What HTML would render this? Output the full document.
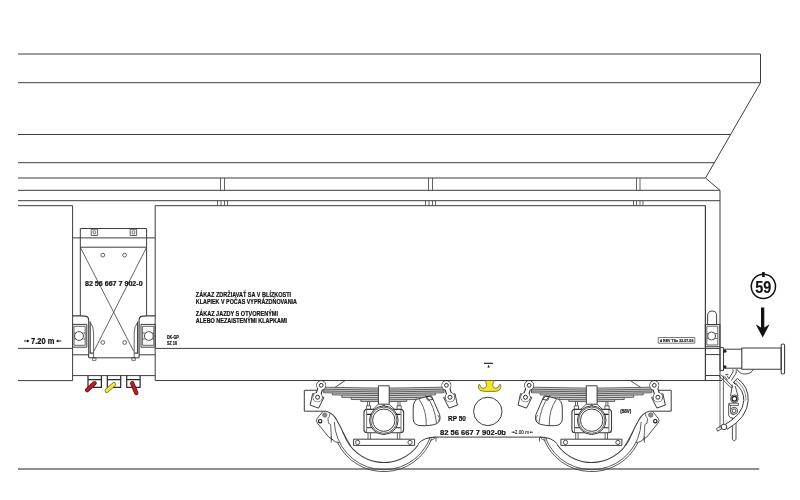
<!DOCTYPE html>
<html lang="sk"><head><meta charset="utf-8"><title>Wagon drawing</title>
<style>
html,body{margin:0;padding:0;background:#fff;}
body{width:800px;height:500px;overflow:hidden;}
svg{display:block;font-family:"Liberation Sans",sans-serif;will-change:transform;}
</style></head><body>
<svg width="800" height="500" viewBox="0 0 800 500" fill="none" stroke="#3d3d3d" stroke-width="1" stroke-linejoin="round">
<rect x="0" y="0" width="800" height="500" fill="#fff" stroke="none"/>
<path d="M18 468.9H759.3" stroke="#6a6a6a" stroke-width="1.5"/>
<g id="hopper">
<path d="M18 54H760.5V82.7L705.5 178L720 190.3V380.5"/>
<path d="M18 82.7H760.5"/>
<path d="M18 134.5H730.5"/>
<path d="M18 162.7H714.3"/>
<path d="M18 178H705.5"/>
<path d="M18 190.3H720"/>
<path d="M18 200.7H720"/>
<path d="M220.5 178V190.3M224.5 178V190.3" stroke-width="0.8"/>
<path d="M428.5 178V190.3M432.5 178V190.3" stroke-width="0.8"/>
<path d="M636.5 178V190.3M640 178V190.3" stroke-width="0.8"/>
<path d="M217.5 200.7V205.7M221 200.7V205.7M224.5 200.7V205.7M227.5 200.7V205.7" stroke-width="0.8"/>
<path d="M425.5 200.7V205.7M429 200.7V205.7M432.5 200.7V205.7M435.5 200.7V205.7" stroke-width="0.8"/>
<path d="M633.5 200.7V205.7M636.5 200.7V205.7M640 200.7V205.7M643 200.7V205.7" stroke-width="0.8"/>
</g>
<g id="body">
<path d="M18 205.7H72.6V380.6H18"/>
<path d="M18 348.4H72.6"/>
<path d="M155.2 380.6V205.7H705.4V380.5"/>
<path d="M155.2 348.4H705.4"/>
<path d="M155.2 380.5H722"/>
</g>
<g id="gear">
<path d="M80.3 315.8V228.5H146.6V315.8"/>
<path d="M72.6 237.9H155.2"/>
<path d="M80.3 247.2H146.6"/>
<rect x="91.2" y="229.3" width="6.4" height="6.2" stroke-width="0.8"/>
<rect x="93.10000000000001" y="230.8" width="2.6" height="3.2" rx="0.8" stroke-width="0.7"/>
<rect x="130.2" y="229.3" width="6.4" height="6.2" stroke-width="0.8"/>
<rect x="132.1" y="230.8" width="2.6" height="3.2" rx="0.8" stroke-width="0.7"/>
<circle cx="102.8" cy="255.1" r="1.9" stroke-width="0.8"/>
<circle cx="102.8" cy="342.5" r="1.9" stroke-width="0.8"/>
<circle cx="124.6" cy="255.1" r="1.9" stroke-width="0.8"/>
<circle cx="124.6" cy="342.5" r="1.9" stroke-width="0.8"/>
<path d="M80.3 247.2L133.6 351M146.6 247.2L94 351" stroke-width="0.8"/>
<path d="M72.6 315.9H81.3L86.3 316.4Q88.6 317 88.7 320V357.8" stroke-width="1.1"/>
<path d="M90.2 321.5V353.1H93.4" stroke-width="1.1"/>
<path d="M90.2 322.5Q93.6 326 93.6 333V357.8" stroke-width="0.8"/>
<rect x="72.6" y="324.4" width="14.200000000000003" height="22.8" stroke-width="1"/>
<rect x="74" y="326.3" width="11.200000000000003" height="19" stroke-width="0.8"/>
<circle cx="79" cy="336" r="4.4" stroke-width="0.9"/>
<path d="M74 333H75.8M74 339H75.8M82.2 333H85.2M82.2 339H85.2" stroke-width="0.7"/>
<path d="M72.6 354.8H88.7"/>
<rect x="92.4" y="357.8" width="3.5999999999999943" height="2.6" stroke-width="0.7"/>
<path d="M155.2 315.9H146.5L141.5 316.4Q139.2 317 139.1 320V357.8" stroke-width="1.1"/>
<path d="M137.6 321.5V353.1H134.4" stroke-width="1.1"/>
<path d="M137.6 322.5Q134.2 326 134.2 333V357.8" stroke-width="0.8"/>
<rect x="141.0" y="324.4" width="14.199999999999989" height="22.8" stroke-width="1"/>
<rect x="142.6" y="326.3" width="11.200000000000017" height="19" stroke-width="0.8"/>
<circle cx="148.8" cy="336" r="4.4" stroke-width="0.9"/>
<path d="M153.8 333H152.0M153.8 339H152.0M145.6 333H142.6M145.6 339H142.6" stroke-width="0.7"/>
<path d="M155.2 354.8H139.1"/>
<rect x="131.8" y="357.8" width="3.5999999999999943" height="2.6" stroke-width="0.7"/>
<path d="M88.7 357.8H139.1"/>
<path d="M72.6 375.6H155.2"/>
<path d="M88 375.6V387.4H101.4V375.6M88 379.6H101.4" stroke-width="1.2" stroke="#2a2a2a"/>
<path d="M107.3 375.6V387.4H120.7V375.6M107.3 379.6H120.7" stroke-width="1.2" stroke="#2a2a2a"/>
<path d="M126.7 375.6V387.4H140.1V375.6M126.7 379.6H140.1" stroke-width="1.2" stroke="#2a2a2a"/>
<line x1="94.6" y1="383.2" x2="87.1" y2="390.1" stroke="#5e0d14" stroke-width="4.3" stroke-linecap="round"/>
<line x1="94.6" y1="383.2" x2="87.1" y2="390.1" stroke="#b81d29" stroke-width="3" stroke-linecap="round"/>
<line x1="113.9" y1="384.4" x2="106.8" y2="390.6" stroke="#6b6410" stroke-width="4.3" stroke-linecap="round"/>
<line x1="113.9" y1="384.4" x2="106.8" y2="390.6" stroke="#f2e73a" stroke-width="3" stroke-linecap="round"/>
<line x1="132.2" y1="383.3" x2="136.3" y2="393" stroke="#5e0d14" stroke-width="4.3" stroke-linecap="round"/>
<line x1="132.2" y1="383.3" x2="136.3" y2="393" stroke="#b81d29" stroke-width="3" stroke-linecap="round"/>
</g>
<g id="end">
<path d="M705.4 205.7V380.5"/>
<path d="M707.6 324.5V316Q707.6 311 712.1 311Q716.6 311 716.6 316V324.5" stroke-width="1"/>
<rect x="705.4" y="324.5" width="14.5" height="22.2" stroke-width="1.1"/>
<rect x="706.8" y="326.2" width="11" height="18.8" stroke-width="0.8"/>
<circle cx="711.6" cy="336" r="4" stroke-width="0.9"/>
<path d="M706.8 333.6H708.2M706.8 338.4H708.2M715 333.6H717.8M715 338.4H717.8" stroke-width="0.7"/>
<path d="M705.4 348.4H720M705.4 354.6H720M705.4 375.5H720"/>
<rect x="720" y="347.6" width="3.5" height="23" stroke-width="1"/>
<circle cx="724.9" cy="351.2" r="1.6" fill="#222" stroke="none"/>
<circle cx="724.9" cy="366.8" r="1.6" fill="#222" stroke="none"/>
<path d="M723.5 349.2H741.8M723.5 368.2H741.8"/>
<rect x="741.8" y="348" width="39.4" height="21.2" stroke-width="1.1"/>
<rect x="781.2" y="344" width="3.4" height="30" rx="1.4" stroke-width="1.1"/>
<path d="M737 369.3Q739.6 374 745.2 374Q750.8 374 753.4 369.3" stroke-width="0.9"/>
<path d="M720 380.5V428.6M723.4 375.6V426" stroke-width="0.8"/>
<path d="M718.9 375.8L731.3 388M721.3 375L732.9 386.8M731.3 388L732.9 386.8" stroke-width="0.9"/>
<path d="M733 369.3V372L728.6 379M736.2 369.3V373L731.4 380.6" stroke-width="0.9"/>
<path d="M724.6 376.4L727.6 380.4M726.6 375.4L729 378.6M725.4 374.4H728.4" stroke-width="0.8" stroke="#222"/>
<path d="M732.4 418V439.4Q734.2 442.4 736 439.4V416" stroke-width="0.9"/>
<path d="M737.4 378.4Q748.8 386.6 748.2 400.6Q747.2 417.6 727.4 429.2L725 424.6Q743 414.4 743.8 400.6Q744.2 389.2 733.4 382.6Z" fill="#fff" stroke-width="1"/>
<path d="M735.6 380.2Q746.4 388 746 400.6" stroke-width="0.6"/>
<path d="M733 381.8L737.4 384.4" stroke-width="0.8"/>
<path d="M732.4 384.6L730.6 396M735.2 386L738 396" stroke-width="0.9"/>
<circle cx="734.4" cy="398.8" r="3.9" fill="#fff" stroke-width="0.9"/>
<circle cx="734.4" cy="398.8" r="2.4" stroke="#222" stroke-width="1.3"/>
<path d="M729.6 403.2H738.4V405.4H729.6Z" fill="#fff" stroke-width="0.8"/>
<path d="M728.7 403.4V415.6Q729.6 418.4 733.6 418.2" stroke-width="0.9"/>
<path d="M730.6 405.4V413Q731.4 415.2 734.1 414.6" stroke-width="0.7"/>
<circle cx="734.1" cy="410.8" r="3.5" fill="#fff" stroke-width="0.9"/>
<circle cx="734.1" cy="410.8" r="1.9" stroke-width="0.9"/>
<circle cx="724" cy="426.9" r="2.8" fill="#fff" stroke-width="1"/>
<path d="M721.8 428.8L717.6 431.2L716.6 428.6L721.2 425.6" stroke-width="0.9"/>
</g>
<g id="bogieL">
<path d="M317 390.25H304.3V411.2H326"/>
<path d="M345.2 380.5L334.5 387.7" stroke-width="0.9"/>
<path d="M323.6 387.20Q383.8 389.20 444.0 387.20V392.80H435.3V394.86H425.8V397.31H416.3V399.51H406.8V401.45H360.8V399.65H351.3V397.51H341.8V395.11H332.3V393.06H323.6Z" fill="#cfcfcf" stroke="none"/>
<path d="M323.6 387.19Q383.8 389.21 444.0 387.19M323.6 389.19Q383.8 391.21 444.0 389.19M323.6 390.99Q383.8 393.01 444.0 390.99M323.6 392.79Q383.8 394.81 444.0 392.79M332.3 394.86Q383.8 396.34 435.3 394.86M341.8 397.31Q383.8 398.29 425.8 397.31M351.3 399.51Q383.8 400.09 416.3 399.51M360.8 401.45Q383.8 401.75 406.8 401.45M332.3 393.06V394.86M435.3 393.06V394.86M341.8 395.11V397.31M425.8 395.11V397.31M351.3 397.51V399.51M416.3 397.51V399.51M360.8 399.65V401.45M406.8 399.65V401.45M323.6 387.20V392.80M444.0 387.20V392.80" stroke-width="0.85" stroke="#4a4a4a"/>
<path d="M312.6 393.7L323.9 397.5L318.6 408.1L310.2 405.1Z" fill="#fff" stroke-width="1"/>
<circle cx="321.2" cy="385.3" r="4.4" fill="#2c2c2c" stroke="#2c2c2c" stroke-width="1.1"/>
<circle cx="317.6" cy="397.25" r="4.5" fill="#2c2c2c" stroke="#2c2c2c" stroke-width="1.1"/>
<line x1="321.2" y1="385.3" x2="317.6" y2="397.25" stroke="#2c2c2c" stroke-width="6"/>
<circle cx="321.2" cy="385.3" r="4.35" fill="#fff" stroke="none"/>
<circle cx="317.6" cy="397.25" r="4.45" fill="#fff" stroke="none"/>
<line x1="321.2" y1="385.3" x2="317.6" y2="397.25" stroke="#fff" stroke-width="3.8"/>
<circle cx="321.2" cy="385.3" r="1.9" stroke-width="1" stroke="#2c2c2c"/>
<circle cx="317.6" cy="397.25" r="2" stroke-width="1" stroke="#2c2c2c"/>
<path d="M455.0 393.7L443.7 397.5L449.0 408.1L457.4 405.1Z" fill="#fff" stroke-width="1"/>
<circle cx="446.4" cy="385.3" r="4.4" fill="#2c2c2c" stroke="#2c2c2c" stroke-width="1.1"/>
<circle cx="450.0" cy="397.25" r="4.5" fill="#2c2c2c" stroke="#2c2c2c" stroke-width="1.1"/>
<line x1="446.4" y1="385.3" x2="450.0" y2="397.25" stroke="#2c2c2c" stroke-width="6"/>
<circle cx="446.4" cy="385.3" r="4.35" fill="#fff" stroke="none"/>
<circle cx="450.0" cy="397.25" r="4.45" fill="#fff" stroke="none"/>
<line x1="446.4" y1="385.3" x2="450.0" y2="397.25" stroke="#fff" stroke-width="3.8"/>
<circle cx="446.4" cy="385.3" r="1.9" stroke-width="1" stroke="#2c2c2c"/>
<circle cx="450.0" cy="397.25" r="2" stroke-width="1" stroke="#2c2c2c"/>
<rect x="378.4" y="385.8" width="10.8" height="18.4" fill="#fff" stroke-width="1"/>
<path d="M367.6 401.8V405.8M369.6 401.8V405.8M398 401.8V405.8M400 401.8V405.8" stroke-width="0.8"/>
<rect x="366.4" y="405.8" width="4.2" height="3.6" stroke-width="0.8"/>
<rect x="397" y="405.8" width="4.2" height="3.6" stroke-width="0.8"/>
<rect x="364" y="409.4" width="39.6" height="23.4" rx="3" fill="#fff" stroke-width="1.1"/>
<path d="M366.6 409.6V432.6M401 409.6V432.6" stroke-width="0.7"/>
<path d="M378.4 404.2L373 409.4M389.2 404.2L394.6 409.4M381.2 408L383.8 404.6L386.40000000000003 408" stroke-width="0.9"/>
<circle cx="383.8" cy="420.2" r="14.3" fill="#fff" stroke-width="1"/>
<circle cx="383.8" cy="420.2" r="13.1" stroke-width="0.8"/>
<circle cx="383.8" cy="420.2" r="11.2" stroke-width="1"/>
<path d="M367 414.4H371.6M367 427.8H371.6M396 414.4H400.6M396 427.8H400.6" stroke-width="1.1" stroke="#222"/>
<path d="M368 432.8V439.2M370.4 432.8V439.2M397.4 432.8V439.2M399.8 432.8V439.2" stroke-width="0.8"/>
<rect x="353.6" y="439.2" width="61" height="6.2" stroke-width="1"/>
<circle cx="357.6" cy="442.4" r="2.1" stroke-width="0.9"/>
<circle cx="410" cy="442.4" r="2.1" stroke-width="0.9"/>
<path d="M431.79 438.62A51.4 51.4 0 0 1 337.60 442.73" stroke-width="0.85"/>
<path d="M429.86 438.34A49.5 49.5 0 0 1 334.33 421.93" stroke-width="0.85"/>
<path d="M418.45 444.46A42.3 42.3 0 0 1 344.05 434.67" stroke-width="1.05"/>
<path d="M326 411.2Q333 412.6 337 420.6Q341.5 428.5 344.05 434.7" stroke-width="1.05"/>
<path d="M342.6 431.6L351 446.4" stroke-width="0.8"/>
<circle cx="324.8" cy="415" r="2.3" fill="#8a8a8a" stroke="#666" stroke-width="0.6"/>
<circle cx="320.2" cy="421.2" r="1.7" stroke="#111" stroke-width="1.1"/>
<path d="M323 411.4L317.2 418.4Q315.6 420.6 317.4 423L328.8 437.2L331.4 438.6L335.4 441.8L339.4 442.6" stroke-width="0.9"/>
<path d="M329.8 413.4Q330.4 416.6 328 418.4L328.4 423.2L330.6 424.4L331.6 440.4M331.2 436.4V442.6" stroke-width="0.8"/>
<path d="M413.2 408Q413.4 399.6 419 398.6L428.4 396.2Q432 396.2 434.4 402.6L439.6 414.6Q441.4 421.4 436.4 423.8Q431 425.9 421 425.7Q413.4 425.4 413.2 419Z" fill="#fff" stroke-width="1"/>
<path d="M418.8 398.8Q426.8 410 426.2 425.6M426.8 396.8Q434.6 406 436.6 423.6" stroke-width="0.8"/>
<path d="M437.8 415L439.6 418.6L438.4 421" stroke-width="0.7"/>
<path d="M426.2 396.6L431.4 395.8L433 399.4L427.6 400.2Z" stroke-width="0.8" stroke="#222"/>
<path d="M428.6 438.6Q431 437.4 435.6 437.2M430.2 440.4Q433.6 440 435.4 437.4M436 437.2V441.6" stroke-width="0.8"/>
<path d="M435.2 437.1Q424 437.2 418.2 443.8" stroke-width="1"/>
</g>
<g id="bogieR" transform="translate(975.5 0) scale(-1 1)">
<path d="M317 390.25H304.3V411.2H326"/>
<path d="M345.2 380.5L334.5 387.7" stroke-width="0.9"/>
<path d="M323.6 387.20Q383.8 389.20 444.0 387.20V392.80H435.3V394.86H425.8V397.31H416.3V399.51H406.8V401.45H360.8V399.65H351.3V397.51H341.8V395.11H332.3V393.06H323.6Z" fill="#cfcfcf" stroke="none"/>
<path d="M323.6 387.19Q383.8 389.21 444.0 387.19M323.6 389.19Q383.8 391.21 444.0 389.19M323.6 390.99Q383.8 393.01 444.0 390.99M323.6 392.79Q383.8 394.81 444.0 392.79M332.3 394.86Q383.8 396.34 435.3 394.86M341.8 397.31Q383.8 398.29 425.8 397.31M351.3 399.51Q383.8 400.09 416.3 399.51M360.8 401.45Q383.8 401.75 406.8 401.45M332.3 393.06V394.86M435.3 393.06V394.86M341.8 395.11V397.31M425.8 395.11V397.31M351.3 397.51V399.51M416.3 397.51V399.51M360.8 399.65V401.45M406.8 399.65V401.45M323.6 387.20V392.80M444.0 387.20V392.80" stroke-width="0.85" stroke="#4a4a4a"/>
<path d="M312.6 393.7L323.9 397.5L318.6 408.1L310.2 405.1Z" fill="#fff" stroke-width="1"/>
<circle cx="321.2" cy="385.3" r="4.4" fill="#2c2c2c" stroke="#2c2c2c" stroke-width="1.1"/>
<circle cx="317.6" cy="397.25" r="4.5" fill="#2c2c2c" stroke="#2c2c2c" stroke-width="1.1"/>
<line x1="321.2" y1="385.3" x2="317.6" y2="397.25" stroke="#2c2c2c" stroke-width="6"/>
<circle cx="321.2" cy="385.3" r="4.35" fill="#fff" stroke="none"/>
<circle cx="317.6" cy="397.25" r="4.45" fill="#fff" stroke="none"/>
<line x1="321.2" y1="385.3" x2="317.6" y2="397.25" stroke="#fff" stroke-width="3.8"/>
<circle cx="321.2" cy="385.3" r="1.9" stroke-width="1" stroke="#2c2c2c"/>
<circle cx="317.6" cy="397.25" r="2" stroke-width="1" stroke="#2c2c2c"/>
<path d="M455.0 393.7L443.7 397.5L449.0 408.1L457.4 405.1Z" fill="#fff" stroke-width="1"/>
<circle cx="446.4" cy="385.3" r="4.4" fill="#2c2c2c" stroke="#2c2c2c" stroke-width="1.1"/>
<circle cx="450.0" cy="397.25" r="4.5" fill="#2c2c2c" stroke="#2c2c2c" stroke-width="1.1"/>
<line x1="446.4" y1="385.3" x2="450.0" y2="397.25" stroke="#2c2c2c" stroke-width="6"/>
<circle cx="446.4" cy="385.3" r="4.35" fill="#fff" stroke="none"/>
<circle cx="450.0" cy="397.25" r="4.45" fill="#fff" stroke="none"/>
<line x1="446.4" y1="385.3" x2="450.0" y2="397.25" stroke="#fff" stroke-width="3.8"/>
<circle cx="446.4" cy="385.3" r="1.9" stroke-width="1" stroke="#2c2c2c"/>
<circle cx="450.0" cy="397.25" r="2" stroke-width="1" stroke="#2c2c2c"/>
<rect x="378.4" y="385.8" width="10.8" height="18.4" fill="#fff" stroke-width="1"/>
<path d="M367.6 401.8V405.8M369.6 401.8V405.8M398 401.8V405.8M400 401.8V405.8" stroke-width="0.8"/>
<rect x="366.4" y="405.8" width="4.2" height="3.6" stroke-width="0.8"/>
<rect x="397" y="405.8" width="4.2" height="3.6" stroke-width="0.8"/>
<rect x="364" y="409.4" width="39.6" height="23.4" rx="3" fill="#fff" stroke-width="1.1"/>
<path d="M366.6 409.6V432.6M401 409.6V432.6" stroke-width="0.7"/>
<path d="M378.4 404.2L373 409.4M389.2 404.2L394.6 409.4M381.2 408L383.8 404.6L386.40000000000003 408" stroke-width="0.9"/>
<circle cx="383.8" cy="420.2" r="14.3" fill="#fff" stroke-width="1"/>
<circle cx="383.8" cy="420.2" r="13.1" stroke-width="0.8"/>
<circle cx="383.8" cy="420.2" r="11.2" stroke-width="1"/>
<path d="M367 414.4H371.6M367 427.8H371.6M396 414.4H400.6M396 427.8H400.6" stroke-width="1.1" stroke="#222"/>
<path d="M368 432.8V439.2M370.4 432.8V439.2M397.4 432.8V439.2M399.8 432.8V439.2" stroke-width="0.8"/>
<rect x="353.6" y="439.2" width="61" height="6.2" stroke-width="1"/>
<circle cx="357.6" cy="442.4" r="2.1" stroke-width="0.9"/>
<circle cx="410" cy="442.4" r="2.1" stroke-width="0.9"/>
<path d="M431.79 438.62A51.4 51.4 0 0 1 337.60 442.73" stroke-width="0.85"/>
<path d="M429.86 438.34A49.5 49.5 0 0 1 334.33 421.93" stroke-width="0.85"/>
<path d="M418.45 444.46A42.3 42.3 0 0 1 344.05 434.67" stroke-width="1.05"/>
<path d="M326 411.2Q333 412.6 337 420.6Q341.5 428.5 344.05 434.7" stroke-width="1.05"/>
<path d="M342.6 431.6L351 446.4" stroke-width="0.8"/>
<circle cx="324.8" cy="415" r="2.3" fill="#8a8a8a" stroke="#666" stroke-width="0.6"/>
<circle cx="320.2" cy="421.2" r="1.7" stroke="#111" stroke-width="1.1"/>
<path d="M323 411.4L317.2 418.4Q315.6 420.6 317.4 423L328.8 437.2L331.4 438.6L335.4 441.8L339.4 442.6" stroke-width="0.9"/>
<path d="M329.8 413.4Q330.4 416.6 328 418.4L328.4 423.2L330.6 424.4L331.6 440.4M331.2 436.4V442.6" stroke-width="0.8"/>
<path d="M413.2 408Q413.4 399.6 419 398.6L428.4 396.2Q432 396.2 434.4 402.6L439.6 414.6Q441.4 421.4 436.4 423.8Q431 425.9 421 425.7Q413.4 425.4 413.2 419Z" fill="#fff" stroke-width="1"/>
<path d="M418.8 398.8Q426.8 410 426.2 425.6M426.8 396.8Q434.6 406 436.6 423.6" stroke-width="0.8"/>
<path d="M437.8 415L439.6 418.6L438.4 421" stroke-width="0.7"/>
<path d="M426.2 396.6L431.4 395.8L433 399.4L427.6 400.2Z" stroke-width="0.8" stroke="#222"/>
<path d="M428.6 438.6Q431 437.4 435.6 437.2M430.2 440.4Q433.6 440 435.4 437.4M436 437.2V441.6" stroke-width="0.8"/>
<path d="M435.2 437.1Q424 437.2 418.2 443.8" stroke-width="1"/>
</g>
<g id="centre">
<path d="M435 437.1H540.5"/>
<circle cx="487.8" cy="411.4" r="14.2" stroke-width="1"/>
<path d="M484.4 380.5H494.8Q492.6 382.4 492.7 385.2A3.1 3.1 0 0 0 498.8 386L500 384.2Q501.3 386 500.7 388Q499.6 391.4 495 391.4H484.2Q479.6 391.4 478.5 388Q477.9 386 479.2 384.2L480.4 386A3.1 3.1 0 0 0 486.5 385.2Q486.6 382.4 484.4 380.5Z" fill="#f3e52a" stroke="#5a5410" stroke-width="0.7"/>
<path d="M484 363.3H493" stroke="#111" stroke-width="1.1"/>
<path d="M487.4 367.4L488.6 364.8L489.8 367.4Z" fill="#111" stroke="none"/>
</g>
<g id="mark">
<circle cx="763.4" cy="286.4" r="12.1" stroke="#111" stroke-width="1.5"/>
<rect x="762.1" y="272" width="2.6" height="5" fill="#111" stroke="none"/>
<path d="M761 307.6H764.3V327.4L769.6 324.2L762.7 337.6L755.7 324.2L761 327.4Z" fill="#111" stroke="none"/>
</g>
<g id="txt" fill="#111" stroke="#111" stroke-width="0.22" font-weight="700" opacity="0.99">
<text x="755.3" y="292.7" font-size="15.9" text-anchor="start" textLength="16" lengthAdjust="spacingAndGlyphs">59</text>
<text x="85" y="286.3" font-size="7.1" text-anchor="start" textLength="57.6" lengthAdjust="spacingAndGlyphs">82 56 667 7 902-0</text>
<text x="31" y="344.1" font-size="8.5" text-anchor="start" textLength="23.3" lengthAdjust="spacingAndGlyphs">7.20 m</text>
<text x="195.8" y="297.1" font-size="6.6" text-anchor="start" textLength="95.3" lengthAdjust="spacingAndGlyphs">ZÁKAZ ZDRŽIAVAŤ SA V BLÍZKOSTI</text>
<text x="195.8" y="304.3" font-size="6.6" text-anchor="start" textLength="101.2" lengthAdjust="spacingAndGlyphs">KLAPIEK V POČAS VYPRÁZDŇOVANIA</text>
<text x="195.8" y="315.6" font-size="6.6" text-anchor="start" textLength="82.2" lengthAdjust="spacingAndGlyphs">ZÁKAZ JAZDY S OTVORENÝMI</text>
<text x="195.8" y="322.8" font-size="6.6" text-anchor="start" textLength="91.2" lengthAdjust="spacingAndGlyphs">ALEBO NEZAISTENÝMI KLAPKAMI</text>
<text x="167" y="339.2" font-size="4.8" text-anchor="start" textLength="11.7" lengthAdjust="spacingAndGlyphs">DK-GP</text>
<text x="167" y="345.1" font-size="4.8" text-anchor="start" textLength="10" lengthAdjust="spacingAndGlyphs">SZ 10</text>
<text x="448" y="421.1" font-size="7.6" text-anchor="start" textLength="17.8" lengthAdjust="spacingAndGlyphs">RP 50</text>
<text x="440" y="434.5" font-size="7.6" text-anchor="start" textLength="66" lengthAdjust="spacingAndGlyphs">82 56 667 7 902-0b</text>
<text x="514.8" y="433.9" font-size="5.7" text-anchor="start" textLength="14.2" lengthAdjust="spacingAndGlyphs" font-weight="400" stroke-width="0.12">2.00 m</text>
<text x="620.2" y="413.3" font-size="4.6" text-anchor="start" textLength="11" lengthAdjust="spacingAndGlyphs">(58V)</text>
<text x="660" y="342.2" font-size="4.2" text-anchor="start" textLength="33.4" lengthAdjust="spacingAndGlyphs" fill="#333">4 REV TSo 22.07.05</text>
</g>
<g id="arr" stroke="#111" fill="#111">
<path d="M24 341H28.6" stroke-width="0.9"/>
<path d="M27 339.4L29.4 341L27 342.6Z" stroke="none"/>
<path d="M61.4 341H56.8" stroke-width="0.9"/>
<path d="M58.4 339.4L56 341L58.4 342.6Z" stroke="none"/>
<path d="M511.6 432.2H514.4" stroke-width="0.7"/>
<path d="M513.4 431.2L515 432.2L513.4 433.2Z" stroke="none"/>
<path d="M533 432.2H530.2" stroke-width="0.7"/>
<path d="M531.2 431.2L529.6 432.2L531.2 433.2Z" stroke="none"/>
</g>
<rect x="658.2" y="337.5" width="36.6" height="5.7" stroke-width="0.7"/>
</svg>
</body></html>
